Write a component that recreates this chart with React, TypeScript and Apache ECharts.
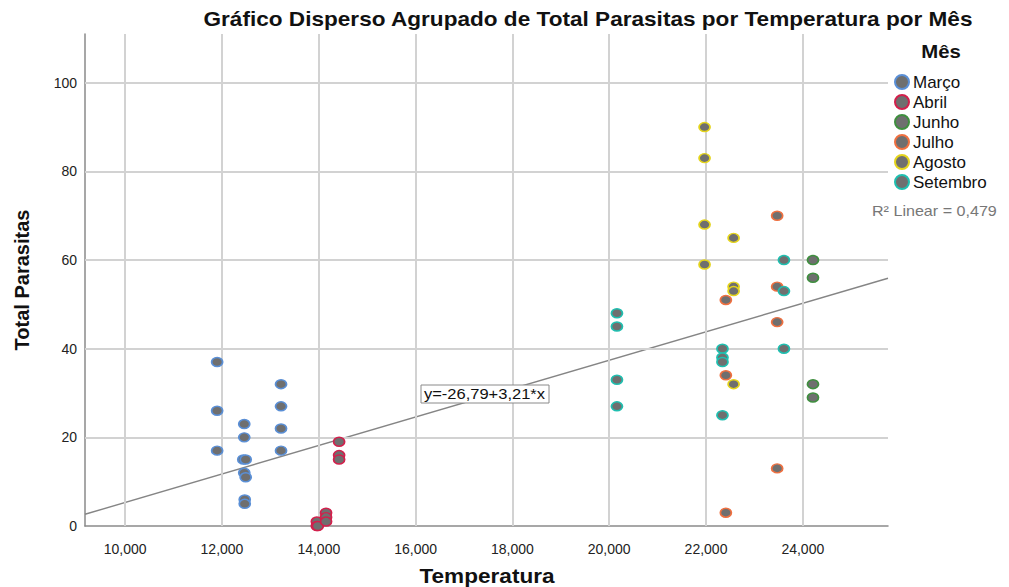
import React, { useEffect, useRef } from "react";
import * as echarts from "echarts";

const months = ["Março", "Abril", "Junho", "Julho", "Agosto", "Setembro"];
const monthColors = ["#5a8fd6", "#d2204c", "#3f8f3f", "#ef7040", "#e4d41c", "#1fbfb0"];

const marcoData = [
  [11.9, 37], [11.9, 26], [11.9, 17],
  [12.46, 23], [12.46, 20], [12.44, 15], [12.49, 15], [12.46, 12], [12.49, 11], [12.47, 6], [12.47, 5],
  [13.22, 32], [13.22, 27], [13.22, 22], [13.22, 17],
];
const abrilData = [
  [13.96, 1], [13.96, 0], [13.98, 0],
  [14.15, 3], [14.15, 2], [14.15, 1],
  [14.42, 19], [14.42, 16], [14.42, 15],
];
const junhoData = [
  [24.21, 60], [24.21, 56], [24.21, 32], [24.21, 29],
];
const julhoData = [
  [23.47, 70], [23.47, 54], [23.47, 46], [23.47, 13],
  [22.41, 51], [22.41, 34], [22.41, 3],
];
const agostoData = [
  [21.97, 90], [21.97, 83], [21.97, 68], [21.97, 59],
  [22.57, 65], [22.57, 54], [22.57, 53], [22.57, 32],
];
const setembroData = [
  [20.16, 48], [20.16, 45], [20.16, 33], [20.16, 27],
  [22.34, 40], [22.34, 38], [22.34, 37], [22.34, 25],
  [23.61, 60], [23.61, 53], [23.61, 40],
];
const seriesData = [marcoData, abrilData, junhoData, julhoData, agostoData, setembroData];

const xTicks = [10, 12, 14, 16, 18, 20, 22, 24];
const yTicks = [0, 20, 40, 60, 80, 100];
const xRange = [9.17, 25.76];
const yRange = [0, 111];
const fitIntercept = -26.79;
const fitSlope = 3.21;
const rSquared = "0,479";

const FONT = "Liberation Sans, Arial, sans-serif";
const ELLIPSE = "path://M0 5A5 5 0 1 0 10 5A5 5 0 1 0 0 5Z";
const SX = 1.13;

export default function App() {
  const ref = useRef<HTMLDivElement>(null);
  useEffect(() => {
    document.body.style.margin = "0";
    const chart = echarts.init(ref.current!, null, { renderer: "svg" });
    const fmt = (v: number) => v.toFixed(3).replace(".", ",");
    const fit = (x: number) => fitIntercept + fitSlope * x;
    const scatter = months.map((m, i) => ({
      name: m,
      type: "scatter",
      z: 5,
      data: seriesData[i],
      symbol: ELLIPSE,
      symbolSize: [11, 9],
      itemStyle: { color: "#6f6f6f", borderColor: monthColors[i], borderWidth: 1.6, opacity: 1 },
    }));
    const txt = (text: string, x: number, y: number, font: string, opts: any = {}) => ({
      type: "text",
      x,
      y,
      scaleX: opts.scaleX ?? SX,
      rotation: opts.rotation ?? 0,
      z: opts.z ?? 10,
      style: {
        text,
        font,
        fill: opts.fill ?? "#111",
        align: opts.align ?? "center",
        verticalAlign: "middle",
      },
    });
    chart.setOption({
      animation: false,
      textStyle: { fontFamily: FONT },
      grid: { left: 85, right: 121, top: 34, bottom: 61 },
      xAxis: {
        type: "value",
        min: xRange[0],
        max: xRange[1],
        axisLine: { show: true, lineStyle: { color: "#8a8a8a", width: 1.5 } },
        axisTick: { show: false },
        splitLine: { show: false },
        axisLabel: {
          customValues: xTicks,
          formatter: (v: number) => fmt(v),
          fontSize: 14,
          color: "#222",
          margin: 16,
          fontFamily: FONT,
        },
      },
      yAxis: {
        type: "value",
        min: yRange[0],
        max: yRange[1],
        axisLine: { show: true, lineStyle: { color: "#8a8a8a", width: 1.5 } },
        axisTick: { show: false },
        splitLine: { show: false },
        axisLabel: {
          customValues: yTicks,
          fontSize: 14,
          color: "#222",
          margin: 8,
          fontFamily: FONT,
        },
      },
      legend: {
        orient: "vertical",
        left: 889,
        top: 67,
        data: months,
        icon: ELLIPSE,
        itemWidth: 18,
        itemHeight: 14,
        itemGap: 0,
        itemStyle: { borderWidth: 2 },
        textStyle: { fontSize: 17, color: "#111", lineHeight: 20, fontFamily: FONT, padding: [0, 0, 0, -3] },
      },
      series: [
        {
          type: "line",
          name: "grid",
          z: 1,
          silent: true,
          data: [],
          markLine: {
            silent: true,
            symbol: "none",
            label: { show: false },
            lineStyle: { color: "#d2d2d2", width: 2, type: "solid" },
            data: [
              ...xTicks.map((v) => ({ xAxis: v })),
              ...yTicks.filter((v) => v > 0).map((v) => ({ yAxis: v })),
            ],
          },
        },
        {
          type: "line",
          name: "fit",
          z: 3,
          silent: true,
          symbol: "none",
          data: [
            [xRange[0], fit(xRange[0])],
            [xRange[1], fit(xRange[1])],
          ],
          lineStyle: { color: "#858585", width: 1.4 },
        },
        ...scatter,
      ],
      graphic: [
        txt("Gráfico Disperso Agrupado de Total Parasitas por Temperatura por Mês", 588, 19, `bold 20px ${FONT}`),
        txt("Temperatura", 487, 576, `bold 20px ${FONT}`),
        txt("Total Parasitas", 22, 280, `bold 20px ${FONT}`, { scaleX: 1, rotation: Math.PI / 2 }),
        txt("Mês", 941, 52, `bold 18px ${FONT}`),
        txt(`R² Linear = ${rSquared}`, 872, 211, `14px ${FONT}`, { align: "left", fill: "#777", scaleX: 1.15 }),
        {
          type: "rect",
          z: 10,
          shape: { x: 421, y: 385, width: 128, height: 18 },
          style: { fill: "#fff", stroke: "#8a8a8a", lineWidth: 1 },
        },
        txt("y=-26,79+3,21*x", 424, 394, `15px ${FONT}`, { align: "left", z: 11, scaleX: 1.1 }),
      ],
    });
    return () => chart.dispose();
  }, []);
  return <div ref={ref} style={{ width: 1009, height: 587 }} />;
}
